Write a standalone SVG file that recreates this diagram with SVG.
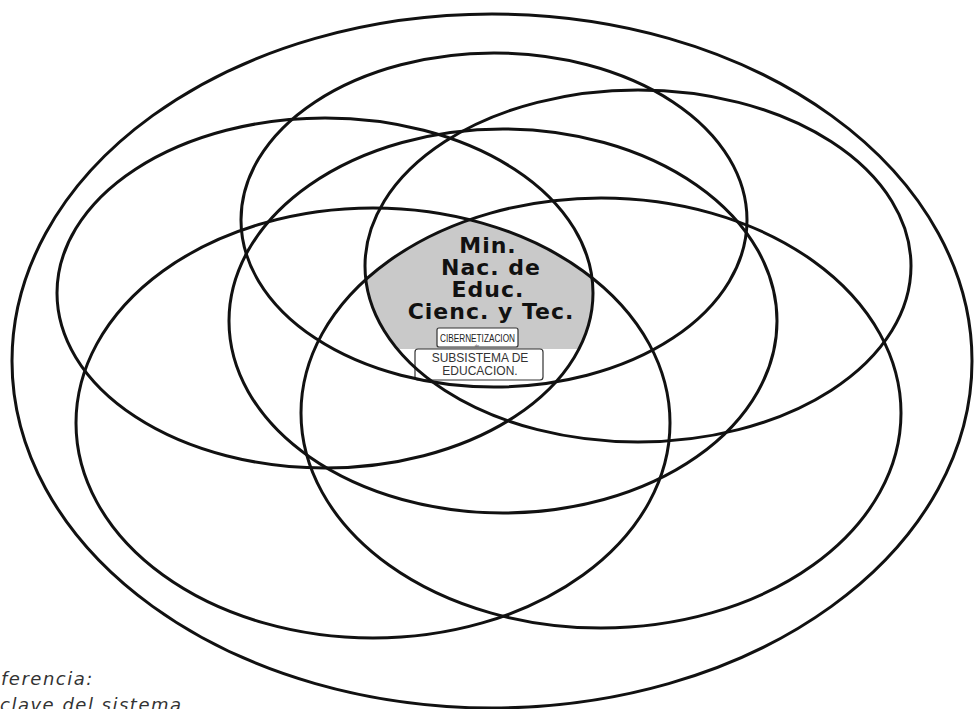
<svg xmlns="http://www.w3.org/2000/svg" width="974" height="709" viewBox="0 0 974 709">
  <style>
    .ring { fill: none; stroke: #111; stroke-width: 3; }
    .big { font-family: "DejaVu Sans", "Liberation Sans", sans-serif; font-weight: bold; font-size: 22px; letter-spacing: 1px; fill: #111; text-anchor: middle; }
    .small { font-family: "Liberation Sans", Arial, sans-serif; font-size: 12px; fill: #333; text-anchor: middle; }
    .tiny { font-family: "Liberation Sans", Arial, sans-serif; font-size: 11px; fill: #222; }
    .ref { font-family: "DejaVu Sans", "Liberation Sans", sans-serif; font-style: italic; font-size: 18px; letter-spacing: 1.5px; fill: #333; }
    .box { fill: #fff; stroke: #333; stroke-width: 1.2; }
  </style>
  <defs>
    <clipPath id="cR"><ellipse cx="638" cy="266" rx="273" ry="176"/></clipPath>
    <clipPath id="cLL"><ellipse cx="373" cy="423" rx="297" ry="215"/></clipPath>
    <clipPath id="cLR"><ellipse cx="601" cy="413" rx="300" ry="215"/></clipPath>
    <clipPath id="cTop"><rect x="0" y="0" width="974" height="349"/></clipPath>
  </defs>
  <rect width="974" height="709" fill="#fff"/>

  <g id="center-region">
    <g clip-path="url(#cR)">
      <g clip-path="url(#cLL)">
        <g clip-path="url(#cLR)">
          <g clip-path="url(#cTop)">
            <ellipse cx="325" cy="293" rx="268" ry="175" fill="#c9c9c9"/>
          </g>
        </g>
      </g>
    </g>
  </g>

  <g id="subsystem-box">
    <rect class="box" x="415" y="349" width="128" height="31" rx="3"/>
  </g>

  <g id="ellipse-outer"><ellipse class="ring" cx="492" cy="361" rx="480" ry="347"/></g>
  <g id="ellipse-top"><ellipse class="ring" cx="494" cy="220" rx="253" ry="167"/></g>
  <g id="ellipse-left"><ellipse class="ring" cx="325" cy="293" rx="268" ry="175"/></g>
  <g id="ellipse-right"><ellipse class="ring" cx="638" cy="266" rx="273" ry="176"/></g>
  <g id="ellipse-middle"><ellipse class="ring" cx="503" cy="321" rx="274" ry="192"/></g>
  <g id="ellipse-lower-left"><ellipse class="ring" cx="373" cy="423" rx="297" ry="215"/></g>
  <g id="ellipse-lower-right"><ellipse class="ring" cx="601" cy="413" rx="300" ry="215"/></g>

  <g id="connectors"></g>

  <g id="center-node">
    <text class="big" x="488" y="253">Min.</text>
    <text class="big" x="491" y="275">Nac. de</text>
    <text class="big" x="488" y="297">Educ.</text>
    <text class="big" x="491" y="319">Cienc. y Tec.</text>
    <rect class="box" x="437" y="328" width="81" height="19" rx="2"/>
    <text class="tiny" x="440" y="342" textLength="75" lengthAdjust="spacingAndGlyphs">CIBERNETIZACION</text>
    <text x="477" y="347" font-family="Liberation Sans, sans-serif" font-size="4" fill="#555" text-anchor="middle">de</text>
    <text class="small" x="480" y="362">SUBSISTEMA DE</text>
    <text class="small" x="480" y="375">EDUCACION.</text>
  </g>

  <g id="legend">
    <text class="ref" x="1" y="685">ferencia:</text>
    <text class="ref" x="0" y="711">clave del sistema</text>
  </g>
</svg>
